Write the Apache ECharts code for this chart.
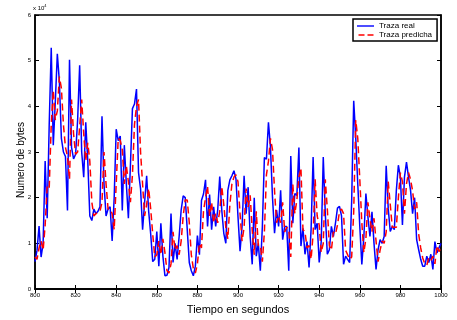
<!DOCTYPE html>
<html>
<head>
<meta charset="utf-8">
<script src="https://cdn.jsdelivr.net/npm/echarts@6/dist/echarts.min.js"></script>
<style>html,body{margin:0;padding:0;background:#fff}#c{width:457px;height:320px}</style>
</head>
<body>
<div id="c"></div>
<script>
var startTime = 800;
var endTime = 1000;
var xTicks = [800, 820, 840, 860, 880, 900, 920, 940, 960, 980, 1000];
var yTicks = [0, 1, 2, 3, 4, 5, 6];
// values in units of 10^4 bytes, one per second from 800 to 1000
var trazaReal = [
0.60,0.85,1.38,0.70,1.00,2.80,1.55,3.60,5.28,3.15,
4.10,5.15,4.55,3.30,3.00,2.90,1.72,5.02,3.10,2.85,
2.95,3.70,4.90,3.00,2.45,3.65,2.80,1.60,1.50,1.75,
1.65,1.70,1.80,3.78,2.30,1.60,1.75,1.80,1.05,2.00,
3.50,3.25,3.35,1.72,3.15,2.30,1.55,2.70,3.95,4.05,
4.38,2.55,2.20,1.30,1.90,2.48,1.70,1.20,0.60,0.65,
1.26,0.50,1.44,0.72,0.29,0.30,0.47,1.65,0.58,1.00,
0.65,1.15,1.73,2.04,2.00,1.30,0.58,0.40,0.29,0.50,
1.17,0.75,1.94,2.08,2.39,1.37,2.07,1.30,1.80,1.37,
1.73,2.46,1.73,1.22,1.00,2.16,2.39,2.48,2.59,2.41,
1.58,0.83,1.37,2.48,1.65,2.23,1.15,0.54,2.00,0.72,
1.00,0.40,1.37,2.88,2.84,3.65,3.10,2.00,1.22,1.73,
1.37,2.16,1.08,1.37,1.37,0.40,2.91,1.44,2.09,2.05,
3.10,0.94,1.33,0.76,1.04,0.47,1.30,2.89,1.30,1.44,
0.58,1.04,2.89,1.65,0.76,0.86,1.37,1.15,1.44,1.77,
1.81,1.60,0.54,0.72,0.65,0.58,1.94,4.12,3.31,2.30,
1.37,0.54,1.15,2.09,1.58,1.15,1.69,1.00,0.43,0.86,
1.08,1.00,1.15,2.70,1.76,1.26,1.37,1.30,2.16,2.71,
2.45,1.40,2.45,2.78,2.45,2.16,1.65,2.00,1.08,0.86,
0.65,0.50,0.50,0.72,0.58,0.76,0.43,1.04,0.79,0.90,
1.00
];
var trazaPredicha = [
0.70,0.65,0.90,1.05,0.85,1.40,2.25,2.20,3.60,4.35,
3.70,3.90,4.65,4.40,3.60,3.10,2.90,2.40,4.15,3.40,
2.95,3.00,3.55,4.15,3.40,2.80,3.20,2.80,1.90,1.60,
1.65,1.68,1.70,1.90,3.00,2.30,1.75,1.75,1.65,1.30,
2.30,3.30,3.25,3.05,2.30,2.70,2.35,1.90,2.50,3.60,
4.00,4.15,3.00,2.30,1.60,1.85,2.20,1.75,1.20,0.70,
0.75,1.05,0.75,1.10,0.80,0.40,0.35,0.55,1.25,0.85,
0.95,0.75,1.05,1.60,1.95,1.95,1.45,0.75,0.45,0.35,
0.55,1.00,0.90,1.70,2.00,2.25,1.60,1.90,1.45,1.65,
1.45,1.70,2.25,1.85,1.35,1.10,1.85,2.30,2.45,2.50,
2.35,1.65,1.05,1.35,2.20,1.80,2.05,1.30,0.75,1.70,
0.95,0.95,0.60,1.25,2.50,2.80,3.30,3.05,2.15,1.45,
1.60,1.45,1.90,1.25,1.35,1.30,0.70,2.30,1.65,1.95,
2.45,2.65,1.30,1.25,0.90,0.95,0.65,1.20,2.40,1.60,
1.40,0.80,1.00,2.40,1.75,0.95,0.85,1.25,1.20,1.40,
1.70,1.75,1.65,0.85,0.75,0.65,0.70,1.70,3.70,3.30,
2.40,1.45,0.80,1.10,1.90,1.55,1.25,1.55,1.05,0.60,
0.85,1.05,1.00,1.25,2.35,1.85,1.35,1.35,1.35,2.00,
2.55,2.35,1.65,2.30,2.55,2.40,2.15,1.75,1.90,1.20,
0.90,0.68,0.55,0.52,0.68,0.62,0.72,0.55,0.95,0.82,
0.90
];
var seriesNames = ['Traza real', 'Traza predicha'];
var xTitle = 'Tiempo en segundos';
var yTitle = 'Numero de bytes';

var times = [];
for (var t = startTime; t <= endTime; t++) times.push(t);
function pairs(vals) { return vals.map(function (v, i) { return [times[i], v]; }); }

var font = 'Liberation Sans, Arial, sans-serif';
var chart = echarts.init(document.getElementById('c'), null, {renderer: 'canvas'});
var tickStyle = {show: true, inside: true, length: 4, lineStyle: {color: '#000', width: 1}};
var solidIcon = 'path://M0,0L0,0M0,3.3h17v1.4h-17zM0,8L0,8';
var dashIcon = 'path://M0,0L0,0M1,3.3h6v1.4h-6zM10,3.3h6v1.4h-6zM0,8L0,8';
chart.setOption({
  animation: false,
  backgroundColor: '#fff',
  grid: {left: 35, right: 16, top: 15, bottom: 27, show: true, borderColor: '#000', borderWidth: 1.5},
  legend: {
    orient: 'vertical', left: 353, top: 19,
    padding: [3, 5, 2, 4], itemGap: 1, itemWidth: 17, itemHeight: 8,
    backgroundColor: '#fff', borderColor: '#000', borderWidth: 1.5,
    textStyle: {fontFamily: font, fontSize: 8, color: '#000'},
    data: [{name: seriesNames[0], icon: solidIcon}, {name: seriesNames[1], icon: dashIcon}]
  },
  xAxis: [{
    type: 'value', min: startTime, max: endTime, interval: 20,
    name: xTitle, nameLocation: 'middle', nameGap: 15,
    nameTextStyle: {fontFamily: font, fontSize: 11, color: '#000'},
    axisLine: {show: true, lineStyle: {color: '#000', width: 1.5}},
    axisTick: tickStyle,
    axisLabel: {fontFamily: font, fontSize: 6, color: '#000', margin: 3,
      formatter: function (v) { return String(v); }},
    splitLine: {show: false}
  }, {
    type: 'value', position: 'top', min: startTime, max: endTime, interval: 20,
    axisLine: {show: true, lineStyle: {color: '#000', width: 1.5}},
    axisTick: tickStyle, axisLabel: {show: false}, splitLine: {show: false}
  }],
  yAxis: [{
    type: 'value', min: 0, max: 6, interval: 1,
    name: 'x 10{s|4}', nameLocation: 'end', nameGap: 3,
    nameTextStyle: {fontFamily: font, fontSize: 6, color: '#000', align: 'left', padding: [0, 0, 0, -2],
      rich: {s: {fontSize: 4, verticalAlign: 'top', padding: [0, 0, 4, 0], fontFamily: font, color: '#000'}}},
    axisLine: {show: true, lineStyle: {color: '#000', width: 1.5}},
    axisTick: tickStyle,
    axisLabel: {fontFamily: font, fontSize: 6, color: '#000', margin: 4},
    splitLine: {show: false}
  }, {
    type: 'value', position: 'right', min: 0, max: 6, interval: 1,
    axisLine: {show: true, lineStyle: {color: '#000', width: 1.5}},
    axisTick: tickStyle, axisLabel: {show: false}, splitLine: {show: false}
  }],
  graphic: [{
    type: 'text', left: 16, top: 'middle', rotation: Math.PI / 2,
    style: {text: yTitle, font: '10px ' + font, fill: '#000'}
  }],
  series: [{
    name: seriesNames[0], type: 'line', data: pairs(trazaReal),
    symbol: 'none', lineStyle: {color: '#0000ff', width: 1.5}, itemStyle: {color: '#0000ff'}
  }, {
    name: seriesNames[1], type: 'line', data: pairs(trazaPredicha),
    symbol: 'none', lineStyle: {color: '#ff0000', width: 1.5, type: [7, 4]}, itemStyle: {color: '#ff0000'}
  }]
});
</script>
</body>
</html>
